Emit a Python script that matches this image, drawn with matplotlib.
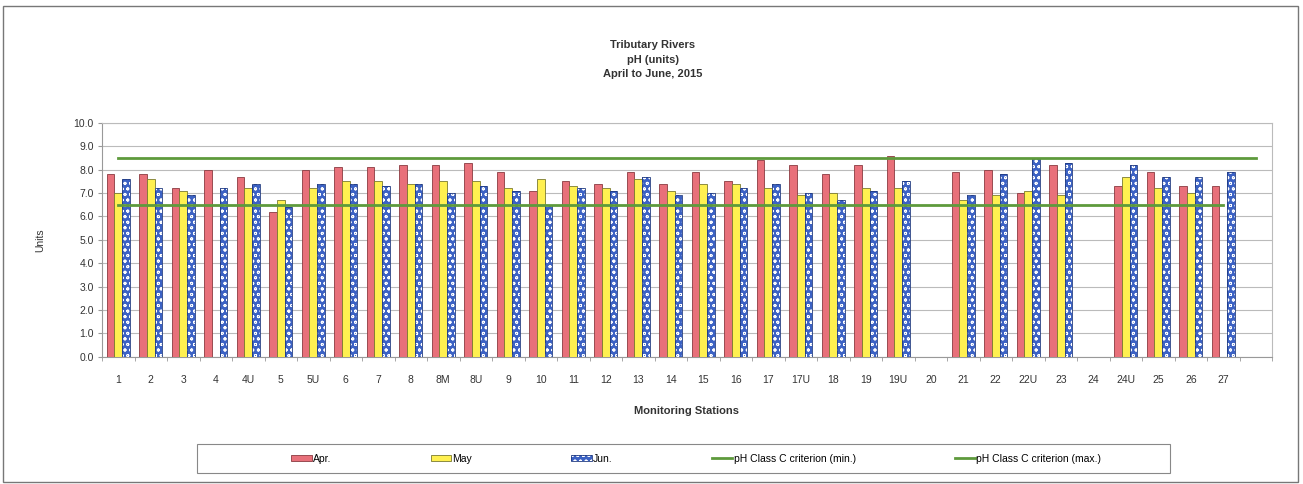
import numpy as np
import matplotlib.pyplot as plt
from matplotlib.patches import Rectangle

plt.rcParams['font.family'] = ['Liberation Sans', 'DejaVu Sans']
plt.rcParams['hatch.linewidth'] = 0.6

nan = np.nan

# Data
stations = ['1', '2', '3', '4', '4U', '5', '5U', '6', '7', '8', '8M', '8U', '9', '10',
            '11', '12', '13', '14', '15', '16', '17', '17U', '18', '19', '19U', '20',
            '21', '22', '22U', '23', '24', '24U', '25', '26', '27']
apr = [7.8, 7.8, 7.2, 8.0, 7.7, 6.2, 8.0, 8.1, 8.1, 8.2, 8.2, 8.3, 7.9, 7.1,
       7.5, 7.4, 7.9, 7.4, 7.9, 7.5, 8.4, 8.2, 7.8, 8.2, 8.6, nan,
       7.9, 8.0, 7.0, 8.2, nan, 7.3, 7.9, 7.3, 7.3]
may = [7.0, 7.6, 7.1, nan, 7.2, 6.7, 7.2, 7.5, 7.5, 7.4, 7.5, 7.5, 7.2, 7.6,
       7.3, 7.2, 7.6, 7.1, 7.4, 7.4, 7.2, 6.9, 7.0, 7.2, 7.2, nan,
       6.7, 6.9, 7.1, 6.9, nan, 7.7, 7.2, 7.0, nan]
jun = [7.6, 7.2, 6.9, 7.2, 7.4, 6.4, 7.4, 7.4, 7.3, 7.4, 7.0, 7.3, 7.1, 6.5,
       7.2, 7.1, 7.7, 6.9, 7.0, 7.2, 7.4, 7.0, 6.7, 7.1, 7.5, nan,
       6.9, 7.8, 8.5, 8.3, nan, 8.2, 7.7, 7.7, 7.9]
crit_min = 6.5
crit_max = 8.5

W, H = 1303, 484
fig = plt.figure(figsize=(W / 100, H / 100), dpi=100)
ax = fig.add_axes([102 / W, 1 - 356.7 / H, 1170 / W, (356.7 - 123) / H])

x = np.arange(len(stations))
bw = 0.24
red = '#E8707A'
yellow = '#FFF050'
blue = '#3C62C4'
green = '#5E9A3C'

b_apr = ax.bar(x - bw, apr, bw, color=red, edgecolor='#8A3A40', linewidth=0.6, zorder=3)
b_may = ax.bar(x, may, bw, color=yellow, edgecolor='#7A7A30', linewidth=0.6, zorder=3)
b_jun = ax.bar(x + bw, jun, bw, color=blue, edgecolor='white', hatch='ooo', linewidth=0, zorder=3)
b_jun_edge = ax.bar(x + bw, jun, bw, fill=False, edgecolor='#203A80', linewidth=0.6, zorder=3)

l_min, = ax.plot(np.arange(len(stations)), np.full(len(stations), crit_min),
                 color=green, linewidth=2, zorder=4)
l_max, = ax.plot(np.arange(len(stations) + 1), np.full(len(stations) + 1, crit_max),
                 color=green, linewidth=2, zorder=4)

ax.set_xlim(-0.5, len(stations) + 0.5)
ax.set_ylim(0, 10)
ax.set_yticks(np.arange(0, 10.5, 1.0))
ax.set_yticklabels([f'{v:.1f}' for v in np.arange(0, 10.5, 1.0)])
ax.set_xticks(x)
ax.set_xticklabels(stations)
ax.set_xticks(np.arange(-0.5, len(stations) + 1, 1), minor=True)
ax.tick_params(axis='x', which='major', length=0, pad=13, labelsize=7.5, colors='#333333')
ax.tick_params(axis='x', which='minor', length=3, color='#999999')
ax.tick_params(axis='y', length=3, color='#999999', labelsize=7.5, labelcolor='#333333', pad=3)

ax.grid(axis='y', color='#BBBBBB', linewidth=0.8, zorder=0)
for s in ax.spines.values():
    s.set_color('#BBBBBB')
    s.set_linewidth(0.8)
ax.spines['left'].set_color('#999999')
ax.spines['bottom'].set_color('#999999')

ax.set_ylabel('Units', fontsize=7.5, color='#333333', labelpad=20)
ax.set_xlabel('Monitoring Stations', fontsize=8, fontweight='bold', color='#333333', labelpad=15)

fig.text(0.501, 1 - 59.5 / H, 'Tributary Rivers\npH (units)\nApril to June, 2015',
         ha='center', va='center', fontsize=8, fontweight='bold', color='#333333',
         linespacing=1.55)

# legend entries, frame drawn separately (Excel pads it wide)
leg = fig.legend([b_apr, b_may, (b_jun, b_jun_edge), l_min, l_max],
                 ['Apr.', 'May', 'Jun.', 'pH Class C criterion (min.)', 'pH Class C criterion (max.)'],
                 loc='center left', bbox_to_anchor=(282 / W, 1 - 458.5 / H), ncol=5,
                 fontsize=7.5, handlelength=2.0, handleheight=0.5, handletextpad=0.1,
                 columnspacing=9.5, frameon=False)
fig.patches.append(Rectangle((197 / W, 1 - 473 / H), 973 / W, 29 / H, transform=fig.transFigure,
                             fill=False, edgecolor='#888888', linewidth=0.8))

fig.patches.append(Rectangle((3 / W, 2 / H), 1295 / W, 476 / H, transform=fig.transFigure,
                             fill=False, edgecolor='#777777', linewidth=1.0))

fig.savefig('out.png', dpi=100)
